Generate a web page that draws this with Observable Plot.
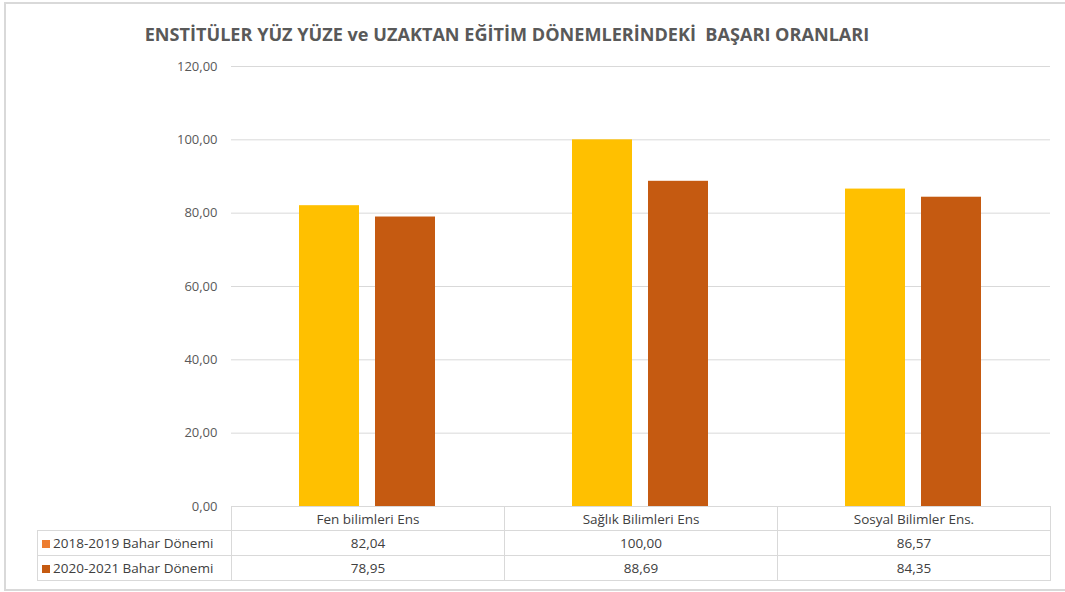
<!DOCTYPE html>
<html>
<head>
<meta charset="utf-8">
<script src="https://cdn.jsdelivr.net/npm/d3@7"></script>
<script src="https://cdn.jsdelivr.net/npm/@observablehq/plot@0.6"></script>
<style>
  body { margin: 0; background: #fff; font-family: "Open Sans", "Liberation Sans", sans-serif; }
  #wrap { position: relative; width: 1065px; height: 592px; overflow: hidden; }
  #border { position: absolute; left: 4px; top: 2px; width: 1070px; height: 589px; border: 2px solid #d9d9d9; box-sizing: border-box; }
  #title { position: absolute; left: 0; top: 22px; width: 1014px; text-align: center; font-weight: bold; font-size: 18.1px; color: #595959; white-space: pre; }
  #chart { position: absolute; left: 0; top: 50px; }
  #tbl { position: absolute; border-collapse: collapse; font-size: 13.5px; color: #404040; table-layout: fixed; }
  #tbl td { border: 1px solid #d9d9d9; text-align: center; padding: 0; }
  #tbl td.lab { text-align: left; padding-left: 4px; white-space: nowrap; }
  #tbl td.blank { border-top: none; border-left: none; }
  .sw { display: inline-block; width: 8px; height: 8px; margin-right: 3px; vertical-align: 0px; }
</style>
</head>
<body>
<div id="wrap">
  <div id="border"></div>
  <div id="title"></div>
  <div id="chart"></div>
</div>
<script>
const title = "ENSTİTÜLER YÜZ YÜZE ve UZAKTAN EĞİTİM DÖNEMLERİNDEKİ  BAŞARI ORANLARI";
const categories = ["Fen bilimleri Ens", "Sağlık Bilimleri Ens", "Sosyal Bilimler Ens."];
const seriesNames = ["2018-2019 Bahar Dönemi", "2020-2021 Bahar Dönemi"];
const values2018 = [82.04, 100.00, 86.57];
const values2020 = [78.95, 88.69, 84.35];
const yTicks = [0, 20, 40, 60, 80, 100, 120];
const barColors = ["#FFC000", "#C55A11"];
const legendColors = ["#ED7D31", "#C55A11"];

document.getElementById("title").textContent = title;

const data = [];
categories.forEach((c, i) => {
  data.push({cat: c, series: seriesNames[0], value: values2018[i]});
  data.push({cat: c, series: seriesNames[1], value: values2020[i]});
});

const fmt = d => d.toFixed(2).replace(".", ",");

const plot = Plot.plot({
  width: 1065,
  height: 542,
  marginLeft: 230,
  marginRight: 15,
  marginTop: 16,
  marginBottom: 86,
  style: { fontFamily: "'Open Sans', sans-serif", fontSize: "13px", color: "#595959", background: "transparent", overflow: "visible" },
  fx: { domain: categories, padding: 0, axis: null },
  x: { domain: seriesNames, paddingInner: 0.208, paddingOuter: 0.879, axis: null },
  y: { domain: [0, 120], ticks: yTicks, tickFormat: fmt, tickSize: 0, tickPadding: 14, label: null },
  color: { domain: seriesNames, range: barColors },
  marks: [
    Plot.ruleY(yTicks, { stroke: "#d9d9d9", strokeWidth: 1 }),
    Plot.barY(data, { fx: "cat", x: "series", y: "value", fill: "series" })
  ]
});
document.getElementById("chart").appendChild(plot);

// data table below the plot, aligned with the fx scale
const fx = plot.scale("fx");
const bw = fx.bandwidth;
const left0 = fx.apply(categories[0]);
const tableLeft = 37;
const tbl = document.createElement("table");
tbl.id = "tbl";
tbl.style.left = tableLeft + "px";
tbl.style.top = "506px";
const cg = document.createElement("colgroup");
[left0 - tableLeft, bw, bw, bw].forEach(w => { const col = document.createElement("col"); col.style.width = w + "px"; cg.appendChild(col); });
tbl.appendChild(cg);
tbl.style.width = (left0 - tableLeft + 3 * bw) + "px";
const rows = [
  {label: null, cells: categories, h: 24},
  {label: seriesNames[0], color: legendColors[0], cells: values2018.map(fmt), h: 25},
  {label: seriesNames[1], color: legendColors[1], cells: values2020.map(fmt), h: 25}
];
rows.forEach(r => {
  const tr = document.createElement("tr");
  tr.style.height = r.h + "px";
  const td0 = document.createElement("td");
  if (r.label) {
    td0.className = "lab";
    td0.innerHTML = `<span class="sw" style="background:${r.color}"></span>${r.label}`;
  } else td0.className = "blank";
  tr.appendChild(td0);
  r.cells.forEach(c => { const td = document.createElement("td"); td.textContent = c; tr.appendChild(td); });
  tbl.appendChild(tr);
});
document.getElementById("wrap").appendChild(tbl);
</script>
</body>
</html>
